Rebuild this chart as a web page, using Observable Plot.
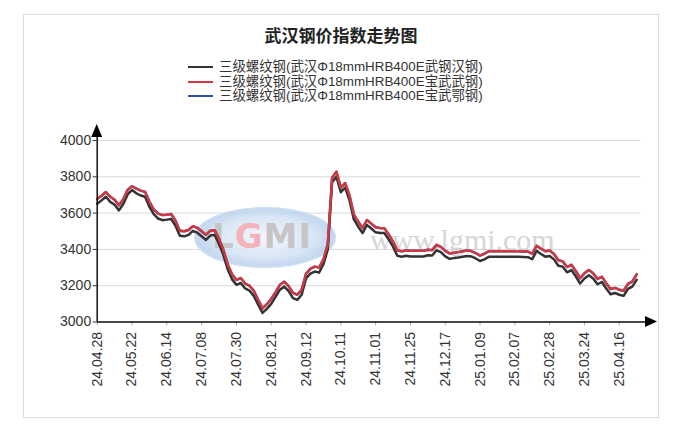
<!DOCTYPE html>
<html><head><meta charset="utf-8">
<script src="https://cdn.jsdelivr.net/npm/d3@7"></script>
<script src="https://cdn.jsdelivr.net/npm/@observablehq/plot@0.6"></script>
<style>
body{margin:0;background:#fff;font-family:"Liberation Sans","Noto Sans CJK SC",sans-serif;width:692px;height:436px;overflow:hidden;}
#frame{position:absolute;left:23px;top:14px;width:634px;height:402px;border:1px solid #dcdcdc;}
#title{position:absolute;left:0;width:682px;top:24px;text-align:center;font-size:17px;font-weight:bold;color:#222;line-height:22px;font-family:"Noto Sans CJK SC",sans-serif;}
#legend{position:absolute;left:188px;top:60px;font-size:13.4px;color:#333;}
.row{height:14.5px;display:flex;align-items:center;white-space:nowrap;line-height:14.5px;}
.sw{width:25px;height:2px;margin-right:6px;}
#chart{position:absolute;left:23px;top:110px;}
</style></head>
<body>
<div id="frame"></div>
<div id="title">武汉钢价指数走势图</div>
<div id="legend"></div>
<div id="chart"></div>
<script>
const seriesNames = [
  "三级螺纹钢(武汉Φ18mmHRB400E武钢汉钢)",
  "三级螺纹钢(武汉Φ18mmHRB400E宝武武钢)",
  "三级螺纹钢(武汉Φ18mmHRB400E宝武鄂钢)"
];
const seriesColors = ["#333333", "#cf3a40", "#2a4fb0"];
const xLabels = ["24.04.28","24.05.22","24.06.14","24.07.08","24.07.30","24.08.21","24.09.12","24.10.11","24.11.01","24.11.25","24.12.17","25.01.09","25.02.07","25.02.28","25.03.24","25.04.16"];
const yTicks = [3000, 3200, 3400, 3600, 3800, 4000];
const pointsPerTick = 8;

const wuganHangang = [
3651,3670,3690,3662,3646,3615,3650,3703,3727,3709,
3697,3690,3635,3594,3570,3561,3564,3568,3530,3475,
3472,3480,3502,3492,3472,3452,3476,3480,3430,3370,
3290,3235,3205,3215,3185,3173,3144,3095,3050,3072,
3100,3138,3178,3195,3170,3132,3122,3150,3240,3266,
3278,3272,3318,3400,3770,3800,3715,3740,3670,3565,
3525,3490,3535,3515,3494,3490,3490,3455,3415,3365,
3360,3365,3361,3361,3361,3361,3368,3366,3395,3385,
3362,3348,3352,3355,3360,3364,3361,3350,3336,3345,
3359,3359,3359,3359,3359,3359,3359,3359,3358,3357,
3346,3392,3375,3360,3364,3345,3310,3305,3274,3286,
3252,3212,3240,3258,3240,3208,3220,3185,3153,3160,
3150,3144,3182,3195,3232];

const baowuWugang = [
3678,3696,3716,3690,3673,3643,3676,3728,3748,3735,
3724,3717,3662,3621,3597,3589,3591,3595,3558,3503,
3500,3507,3528,3519,3500,3480,3503,3506,3458,3398,
3318,3262,3232,3242,3212,3200,3172,3122,3075,3098,
3127,3165,3205,3222,3198,3160,3150,3177,3266,3293,
3305,3300,3345,3426,3795,3828,3740,3765,3697,3592,
3552,3518,3562,3542,3522,3518,3517,3482,3443,3394,
3390,3394,3392,3392,3392,3392,3398,3396,3425,3414,
3392,3378,3382,3385,3390,3394,3391,3380,3366,3376,
3390,3390,3390,3390,3390,3390,3390,3390,3389,3388,
3376,3420,3404,3390,3394,3375,3340,3334,3303,3315,
3281,3241,3268,3286,3268,3237,3249,3214,3182,3188,
3178,3172,3210,3222,3262];

const baowuEgang = [
3678,3696,3716,3690,3673,3643,3676,3728,3748,3735,
3724,3717,3662,3621,3597,3589,3591,3595,3558,3503,
3500,3507,3528,3519,3500,3480,3503,3506,3458,3398,
3318,3262,3232,3242,3212,3200,3172,3122,3075,3098,
3127,3165,3205,3222,3198,3160,3150,3177,3266,3293,
3305,3300,3345,3426,3795,3828,3740,3765,3697,3592,
3552,3518,3562,3542,3522,3518,3517,3482,3443,3394,
3390,3394,3392,3392,3392,3392,3398,3396,3425,3414,
3392,3378,3382,3385,3390,3394,3391,3380,3366,3376,
3390,3390,3390,3390,3390,3390,3390,3390,3389,3388,
3376,3420,3404,3390,3394,3375,3340,3334,3303,3315,
3281,3241,3268,3286,3268,3237,3249,3214,3182,3188,
3178,3172,3210,3222,3262];

// legend
const legend = document.getElementById("legend");
seriesNames.forEach((n, k) => {
  const r = document.createElement("div"); r.className = "row";
  const s = document.createElement("span"); s.className = "sw"; s.style.background = seriesColors[k];
  const t = document.createElement("span"); t.textContent = n;
  r.appendChild(s); r.appendChild(t); legend.appendChild(r);
});

const toRows = vals => vals.map((v, i) => ({i, v}));
const xTickIdx = xLabels.map((_, k) => k * pointsPerTick);

const W = 635, H = 300;
const chart = Plot.plot({
  width: W, height: H,
  marginLeft: 73.7, marginRight: 17.5, marginTop: 30, marginBottom: 88.5,
  style: {background: "transparent", fontFamily: '"Liberation Sans", Arial, sans-serif', fontSize: "14px", color: "#333", overflow: "visible"},
  x: {domain: [0, 125]},
  y: {domain: [3000, 4000]},
  marks: [
    Plot.gridY(yTicks, {stroke: "#d9d9d9", strokeOpacity: 1}),
    Plot.line(toRows(baowuEgang), {x: "i", y: "v", stroke: seriesColors[2], strokeWidth: 2.5}),
    Plot.line(toRows(wuganHangang), {x: "i", y: "v", stroke: seriesColors[0], strokeWidth: 2.5}),
    Plot.line(toRows(baowuWugang), {x: "i", y: "v", stroke: seriesColors[1], strokeWidth: 2.5}),
    Plot.axisY({ticks: yTicks, tickFormat: d => String(d), tickSize: 4, tickPadding: 2, label: null, fontSize: 14, fill: "#333", stroke: "#333"}),
    Plot.axisX({ticks: xTickIdx, tickFormat: d => xLabels[d / pointsPerTick], tickRotate: -90, tickSize: 4, tickPadding: 6, label: null, fontSize: 14, fill: "#333", stroke: "#aaa"}),
    Plot.ruleY([3000], {x1: 0, x2: 126.5, stroke: "#111", strokeWidth: 1.5}),
    Plot.ruleX([0], {y1: 3000, y2: 4070, stroke: "#111", strokeWidth: 1.5})
  ]
});
document.getElementById("chart").appendChild(chart);

const sx = chart.scale("x"), sy = chart.scale("y");
const x0 = sx.apply(0), y0 = sy.apply(3000), yTop = sy.apply(4000);
const svg = d3.select(chart);
// arrowheads
const xTip = W - 1;
svg.append("polygon").attr("points", `${xTip},${y0} ${xTip-12},${y0-5.5} ${xTip-12},${y0+5.5}`).attr("fill", "#000");
const yTip = yTop - 16;
svg.append("polygon").attr("points", `${x0},${yTip} ${x0-5.5},${yTip+13} ${x0+5.5},${yTip+13}`).attr("fill", "#000");

// watermark behind lines
const firstLine = chart.querySelector('g[aria-label="line"]');
const wm = svg.insert("g", () => firstLine).attr("opacity", 0.85);
const grad = svg.append("defs").append("radialGradient").attr("id", "wmg");
grad.append("stop").attr("offset", "0%").attr("stop-color", "#f2f6fc");
grad.append("stop").attr("offset", "70%").attr("stop-color", "#d3e2f4");
grad.append("stop").attr("offset", "100%").attr("stop-color", "#b7cfec");
wm.append("ellipse").attr("cx", 242).attr("cy", 127.5).attr("rx", 70).attr("ry", 29.5)
  .attr("fill", "url(#wmg)").attr("stroke", "#c5d8ef").attr("stroke-width", 2);
const lg = wm.append("text").attr("x", 239).attr("y", 138).attr("text-anchor", "middle")
  .attr("font-family", "DejaVu Sans, sans-serif").attr("font-size", 34).attr("font-weight", "bold")
  .attr("letter-spacing", 1);
lg.append("tspan").attr("fill", "#bdbdbd").text("L");
lg.append("tspan").attr("fill", "#f0a6ad").text("G");
lg.append("tspan").attr("fill", "#bdbdbd").text("MI");
wm.append("text").attr("x", 347).attr("y", 140).attr("text-anchor", "start").attr("font-family", "Liberation Serif, serif")
  .attr("font-size", 30).attr("fill", "#cfcfcf").text("www.lgmi.com");
</script>
</body></html>
